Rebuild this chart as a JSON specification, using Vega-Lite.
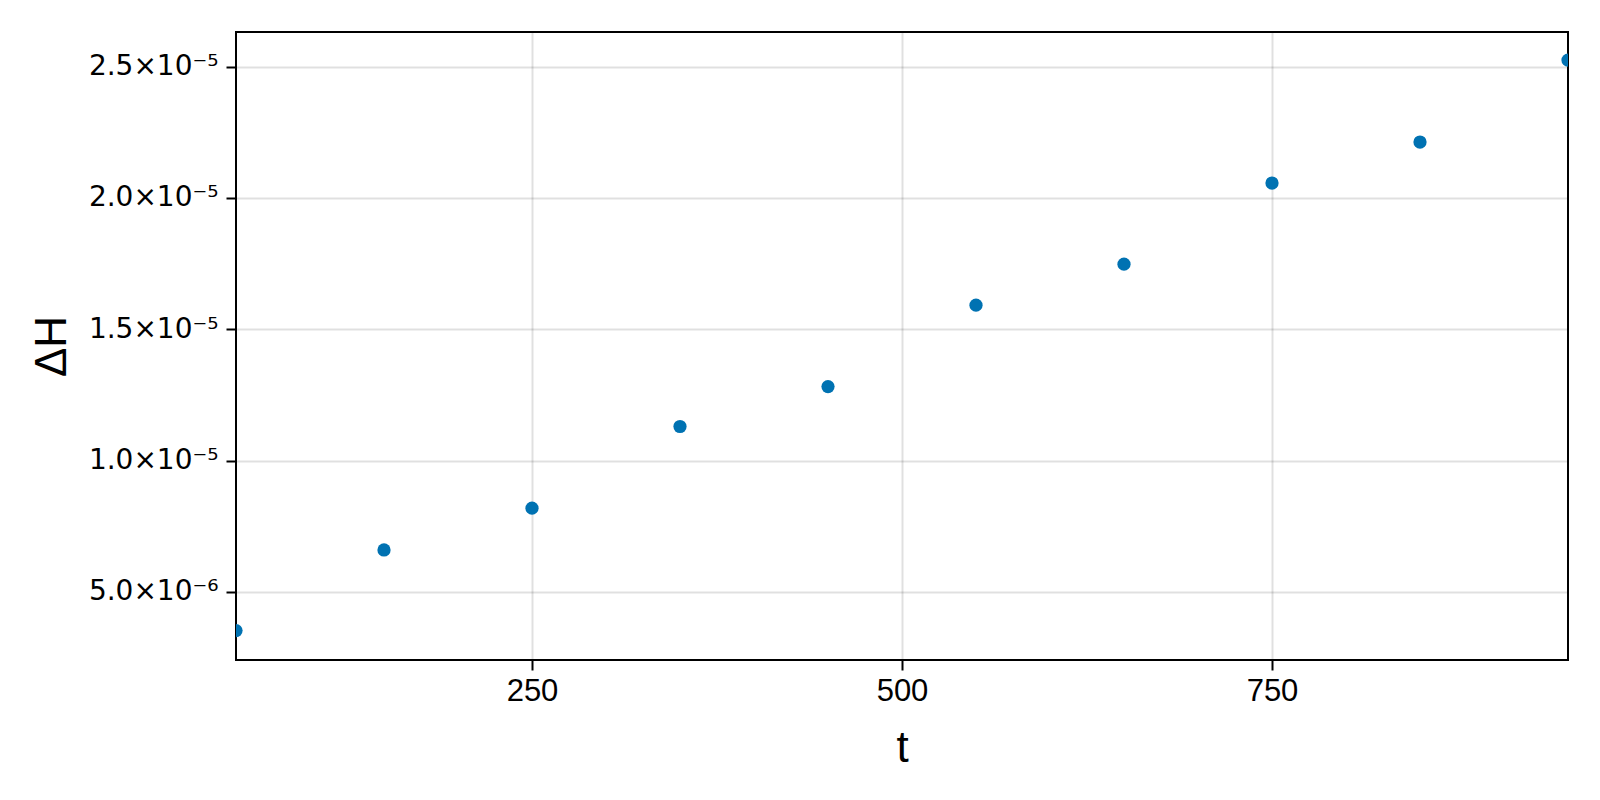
{
  "$schema": "https://vega.github.io/schema/vega-lite/v6.json",
  "description": "Delta H against t",
  "autosize": {"type": "none"},
  "padding": {"left": 236, "top": 32, "right": 32, "bottom": 140},
  "width": 1332,
  "height": 628,
  "background": "white",
  "data": {
    "values": [
      {"t": 50, "dH": 3.53e-6},
      {"t": 150, "dH": 6.60e-6},
      {"t": 250, "dH": 8.19e-6},
      {"t": 350, "dH": 1.130e-5},
      {"t": 450, "dH": 1.282e-5},
      {"t": 550, "dH": 1.592e-5},
      {"t": 650, "dH": 1.748e-5},
      {"t": 750, "dH": 2.057e-5},
      {"t": 850, "dH": 2.213e-5},
      {"t": 950, "dH": 2.525e-5}
    ]
  },
  "mark": {"type": "circle", "size": 175, "opacity": 1, "color": "#0072B2", "clip": true},
  "encoding": {
    "x": {
      "field": "t",
      "type": "quantitative",
      "title": "t",
      "scale": {"domain": [50, 950], "nice": false, "zero": false},
      "axis": {"values": [250, 500, 750], "format": "d"}
    },
    "y": {
      "field": "dH",
      "type": "quantitative",
      "title": "ΔH",
      "scale": {"domain": [2.41e-6, 2.632e-5], "nice": false, "zero": false},
      "axis": {
        "values": [5e-6, 1e-5, 1.5e-5, 2e-5, 2.5e-5],
        "labelExpr": "datum.value < 9.5e-6 ? format(datum.value * 1e6, '.1f') + '×10⁻⁶' : format(datum.value * 1e5, '.1f') + '×10⁻⁵'",
        "labelFont": "DejaVu Sans",
        "labelFontSize": 28,
        "titlePadding": 14
      }
    }
  },
  "config": {
    "font": "Liberation Sans",
    "view": {"stroke": "black", "strokeWidth": 2},
    "axis": {
      "domain": false,
      "grid": true,
      "gridColor": "black",
      "gridOpacity": 0.12,
      "gridWidth": 2,
      "ticks": true,
      "tickColor": "black",
      "tickWidth": 2,
      "tickSize": 10,
      "labelFont": "Liberation Sans",
      "labelFontSize": 31,
      "labelColor": "black",
      "labelPadding": 8,
      "titleFont": "Liberation Sans",
      "titleFontSize": 44,
      "titleFontWeight": "normal",
      "titleColor": "black"
    },
    "axisX": {"labelPadding": 6, "titlePadding": 20}
  }
}
